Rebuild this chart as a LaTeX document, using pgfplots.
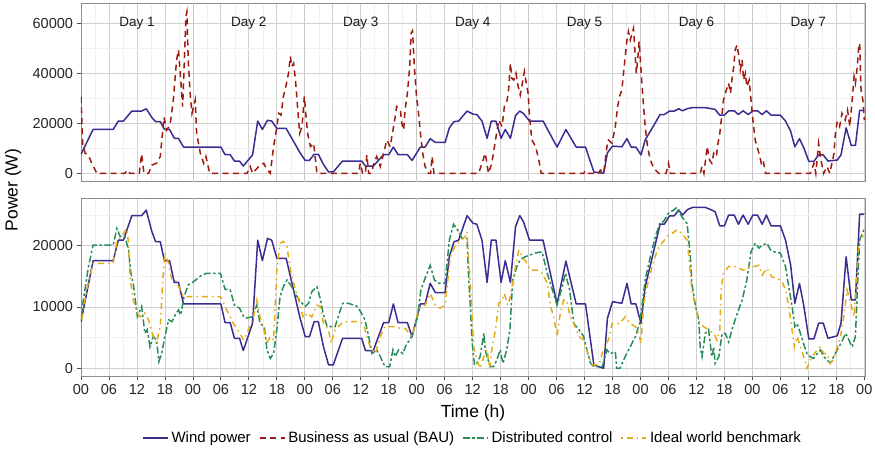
\documentclass[border=0pt]{standalone}
\usepackage{pgfplots}
\pgfplotsset{compat=1.18}
\usepackage{pgfplotstable}
\usepackage{fontspec}
\setmainfont{Liberation Sans}
\definecolor{windc}{RGB}{59,44,145}
\definecolor{bauc}{RGB}{158,26,14}
\definecolor{distc}{RGB}{40,140,90}
\definecolor{idealc}{RGB}{230,170,20}

\pgfplotstableread{
h v
0 7600
2.6 17550
6.9 17550
8 20900
9.1 20900
10.9 24900
13 24900
14 25800
15.2 22300
16 20650
17 20650
17.9 17550
19 17550
20 14000
20.9 14000
22 10500
30 10500
30.9 7450
32 7450
32.9 4900
34 4900
34.8 2900
36.8 7350
37.9 20900
38.9 17550
40 21200
40.9 20900
42 17950
44 17950
47 8150
48.1 5150
49 5150
50 7600
50.9 7600
52 3530
53.1 540
54.1 540
56.1 4900
60.2 4900
61 2900
62.7 2900
64.9 7450
66 7450
67 10500
68 7450
70 7450
71 5150
72.8 10500
73.8 10500
74.9 13850
76 12350
78.1 12350
79 18200
80 20650
81 20900
82.8 24900
84.1 23650
84.9 23500
86 20900
87.1 14000
88 20900
89 20900
90.1 14000
91 17550
92.1 14000
93.2 23100
94.1 24900
94.9 23900
96.2 20900
99.1 20900
102.1 10500
104 17500
106.2 10500
108.2 10500
110 540
112.1 0
112.9 8150
114 10870
116 10600
117.1 13850
118 10500
119 10500
120.1 7350
121 13300
122.8 19000
124.2 23500
125.1 23500
126.2 24850
127.2 24850
128.2 25800
129 25000
130.1 25900
131.2 26250
133.9 26250
135 25900
136 25550
137 23250
138 23250
138.9 25000
140.1 25000
141 23500
142 25000
143.1 23500
144.1 25000
145.1 25000
146.1 23500
147 25000
148 23250
150 23250
151.1 20900
152.2 16850
153.1 10600
154.1 13850
155 10300
156.1 4800
157.2 4800
158.2 7350
159.2 7350
160.2 4900
162.2 5300
163 7350
164.1 18200
165.2 11150
166.1 11150
167 25150
168 25150
}\windtab

\pgfplotstableread{
h v
0 30600
0.35 12000
0.9 8000
1.6 7300
2.3 4000
3.4 0
9.4 0
10 1300
10.5 0
12.5 0
13 7700
13.5 0
14.5 0
15.2 3300
16.2 4000
17 6700
17.8 22400
18.4 17300
19.1 19300
19.8 29300
20.5 45300
20.9 49300
21.4 37300
21.8 26700
22.1 41300
22.5 62700
22.7 64500
23 45300
23.4 32000
23.8 24000
24.5 29300
24.8 16000
25.6 8000
26.3 4000
26.8 6700
27.6 0
35.6 0
36.3 2700
36.8 0
38.1 2700
39.2 4000
39.7 2000
40.6 0
41.3 10700
41.9 17300
42.4 24000
42.9 23300
43.4 30700
44 35300
44.5 40000
44.9 46700
45.2 42700
45.6 44000
46 37300
46.5 25300
46.9 16000
47.4 18700
47.9 30700
48.2 24000
48.6 16000
49.2 10700
49.9 12000
50.6 0
59.5 0
59.9 4000
60.4 0
61 0
61.3 7300
61.7 0
62.3 0
62.7 3300
63.4 6700
64.2 2700
64.9 8000
65.6 13300
66.3 10700
66.8 16000
67.4 22700
67.7 26700
68.5 25300
68.8 20000
69.2 17300
69.5 25300
70 32000
70.5 42700
70.8 56000
71.1 57000
71.5 42700
71.9 32000
72.4 24000
72.8 16000
73.3 8000
73.8 2700
74.5 0
75 0
75.3 6700
75.7 0
85.3 0
86 4000
86.7 8000
87.4 0
88.1 4000
88.9 13300
89.6 21300
90.3 18700
90.8 26700
91.4 29300
91.7 33300
92.1 44000
92.4 38000
92.8 37300
93.3 40000
93.7 35300
94.2 31300
94.6 35300
95.1 40700
95.5 36000
95.9 32000
96.2 22700
96.7 13300
97.5 10700
98.2 5300
98.7 0
107.8 0
108.2 1000
108.6 0
111 0
111.4 1300
112.1 0
112.8 10700
113.1 13300
113.9 12000
114.6 18700
115.1 26700
115.5 30700
116 33300
116.5 42700
117.1 53300
117.4 56700
117.8 53300
118.2 56000
118.5 58000
118.7 52000
119.1 40000
119.4 45300
119.7 52700
120.1 41300
120.5 30700
121 18700
121.5 10700
122.1 5300
122.7 2700
123.2 1300
123.9 0
125.5 0
126 4000
126.4 0
132.8 0
133.2 2700
133.6 0
134.3 10700
134.8 5300
135.3 4000
135.7 8000
136.3 6700
136.5 10700
137 16000
137.5 24000
137.8 29300
138.4 33300
138.9 36000
139.3 32000
139.6 37300
140 42700
140.3 49300
140.7 51300
141.1 46700
141.4 41300
141.8 45300
142.1 37300
142.5 40000
142.8 34700
143.3 37300
143.7 29300
144.1 21300
144.6 13300
145 10700
145.6 6700
145.9 4000
146.3 5300
146.8 0
156.4 0
157.2 4000
157.6 0
158.2 12000
158.7 5300
159.3 0
160 2700
160.6 0
161.5 8000
161.8 16000
162.2 20700
162.7 18700
163.2 24000
163.9 21300
164.4 25300
164.9 18700
165.4 29300
165.8 38700
166.1 36000
166.5 42700
166.8 50700
167 52000
167.3 33300
167.7 29300
168 21300
}\bautab

\pgfplotstableread{
h v
0 7900
0.5 11100
1.6 16600
2.6 20100
6.9 20100
7.7 22800
8.4 21500
9.4 21500
10.2 19300
10.7 15500
11.2 13900
12.1 8400
13 10100
13.7 5700
14.2 6300
14.8 3500
15.5 5200
16.2 4600
16.7 1100
17.3 2400
18 5200
18.8 7900
19.5 7600
20.2 8700
20.9 9500
21.4 8700
22.1 11700
23 13600
24.1 14100
25.9 15200
27 15500
29.9 15500
30.9 12900
32 12800
32.9 10300
34 9800
34.9 8400
35.6 8200
36.7 8400
37.7 10300
38.4 7300
39.3 6800
39.9 3000
40.6 1600
41.3 2400
42 6300
42.7 11700
43.4 13300
44.2 14400
45.2 13300
46.3 11700
47.4 10600
48.1 10100
48.8 10600
49.5 12500
50.6 13300
51.3 11400
52 8700
52.8 6800
54.5 6800
56.1 10600
57.4 10600
59.2 10100
60 9200
60.9 7900
61.7 5200
62.4 2400
63.4 3000
64.2 1900
65.2 270
66.2 270
66.9 3000
67.4 1900
68.1 3000
69 2400
69.9 4100
70.6 4600
71.3 6300
72.2 8400
72.9 12800
73.8 14700
74.9 16800
75.8 14400
76.7 13900
78.1 13900
79 20900
79.9 23500
81 22300
81.7 21200
82.8 21200
83.1 15500
83.5 10100
83.9 4100
84.4 540
84.9 800
85.6 1900
86.4 5700
86.7 3000
87.1 1900
87.8 270
88.5 270
89.2 1400
89.9 3000
90.5 800
91.3 3000
92 6300
92.6 14400
93.5 16600
94.2 17700
95.3 18200
96.4 18500
97.4 18800
98.9 19000
100 15500
101.1 12800
102.1 10300
103.2 13300
103.9 15500
104.8 12800
105.7 7300
106.8 6300
107.8 5200
108.5 3000
109.3 800
110 270
111.8 270
112.8 3000
113.5 2400
114.6 2700
114.9 0
115.6 0
116.7 1900
117.8 3500
118.9 5200
119.8 7300
120.3 10100
121 14400
122.1 18200
123.2 21500
124.2 23800
124.9 23900
126 25300
127.1 25800
127.8 26250
128.9 24700
130 23600
130.7 18200
131 13900
131.8 10100
132.5 7900
132.8 3500
133.2 1900
133.9 5700
134.6 6300
135.3 1900
135.7 3500
136 800
136.8 1900
137.5 5700
138.2 5700
138.9 4300
139.6 6300
140.3 7900
141 9500
141.8 11100
142.8 14400
143.7 19000
144.6 20400
145.4 19600
146.1 20100
147.1 20400
147.9 19300
148.7 19000
150 18800
151.1 16600
151.8 13300
152.5 10100
153.1 6800
153.6 7300
154.3 5700
155.2 3500
155.7 2400
156.4 1900
157.1 1600
157.9 2400
158.6 3000
159.3 1900
160 1400
160.7 800
161.4 1900
162.2 3000
163 4100
164 5700
164.7 4600
165.4 3500
166.1 5200
166.5 12800
167 20900
167.9 22600
}\disttab

\pgfplotstableread{
h v
0 7100
1.2 12800
2.6 17100
6.9 17100
7.7 20700
8.7 21500
9.8 22800
10.2 20400
10.5 14900
11.2 11100
12.1 9000
12.7 8400
13.7 9000
14.5 7900
15.5 5200
16.2 4100
17 6800
17.5 13900
18 18800
18.8 17100
19.5 14400
20.2 14400
21.3 12800
22 11700
29.9 11700
30.6 10600
31.6 9000
32.7 7300
33.8 6000
34.9 4600
35.9 6300
37 8400
37.7 11100
38.4 8400
39.2 6300
39.9 4100
40.6 5200
41.3 4600
42 16000
42.7 20400
43.4 20700
44.2 19800
44.9 16000
45.6 13900
46.7 11100
47.7 8200
48.5 9000
49.5 8400
50.6 10300
51.3 10100
52 7300
53.1 6300
53.6 4000
54.5 6300
56.3 7600
59.9 7600
60.6 7100
62 3500
63.1 2400
64.2 5200
65.2 6800
67.4 6800
68.5 6500
69.5 6500
71 5200
71.7 7300
72.4 9800
73.8 10300
74.9 12200
76 10300
77 9800
78.1 10300
79.2 18200
80.3 20100
81.3 20700
82.4 21500
82.8 22300
83.1 18200
83.5 13900
83.9 8400
84.2 3500
84.9 1400
85.6 0
86.4 1900
87.1 3000
87.6 0
88.1 3000
88.9 6300
89.6 10600
90.3 11100
90.8 12200
91.5 10300
92.1 11700
92.8 14900
93.9 19300
94.6 18200
95.7 17100
96.4 16000
97.8 16000
98.9 15500
100 13900
100.7 10100
101.4 8400
102.1 5200
102.8 9000
103.5 11100
104.2 11100
104.9 8400
105.7 7300
106.8 5200
107.8 4600
108.9 1900
109.6 540
110.7 540
111.2 800
112 3000
113.1 4600
113.9 7300
115.6 7300
116.7 8400
117.8 7300
118.9 6800
119.6 5700
120.1 4100
120.7 10600
121.4 13300
122.5 16600
123.6 19300
124.6 20400
125.7 21500
126.8 22000
127.8 22600
128.9 22000
130 20900
130.5 17100
131 12800
131.8 10100
132.8 7300
133.5 6800
134.6 6300
135.7 5700
136.4 4600
137 6300
137.3 12800
137.8 15500
138.9 16600
140 16700
141.1 16300
142.1 16000
143.2 16600
144.3 16600
145.4 16800
146.1 15200
147.1 16300
148.2 14900
149.3 14700
150.4 14100
151.1 12800
151.8 10100
152.5 6300
153 3500
153.6 5200
154.3 3500
155 1900
155.7 0
156.4 1400
157.1 2200
157.9 3000
158.6 3500
159.3 2400
160 2400
160.7 800
161.4 1400
162.2 3500
162.9 5200
163.6 8400
164.3 12800
164.9 11100
165.8 8400
166.3 13900
166.8 20400
167.5 21500
168 21500
}\idealtab

\pgfplotsset{
  panel/.style={
    scale only axis, width=784pt,
    xmin=0, xmax=168.15,
    axis line style={draw=black!45, line width=0.9pt},
    tick align=outside, tick pos=left,
    major tick length=4.5pt, minor tick length=0pt,
    tick style={black!70, line width=0.8pt},
    grid=both,
    major grid style={color=black!18, line width=0.8pt},
    minor grid style={color=black!6, line width=0.5pt},
    xtick={0,6,...,168},
    minor xtick={3,9,...,165},
    ticklabel style={font=\fontsize{14.5}{16}\selectfont, text=black!85},
    /pgf/number format/assume math mode=true,
    scaled y ticks=false,
    yticklabel style={/pgf/number format/.cd, fixed, 1000 sep={}},
    clip=true,
  },
  windstyle/.style={color=windc, line width=1.5pt, line join=round},
  baustyle/.style={color=bauc, line width=1.5pt, dash pattern=on 6pt off 4.5pt},
  diststyle/.style={color=distc, line width=1.5pt, dash pattern=on 7pt off 2.5pt on 2.5pt off 2.5pt},
  idealstyle/.style={color=idealc, line width=1.5pt, dash pattern=on 1.5pt off 4pt on 6pt off 4pt},
}

\begin{document}
\begin{tikzpicture}[x=1pt,y=1pt]
\path[use as bounding box] (0,0) rectangle (875,454);

\begin{axis}[panel, at={(81pt,272.3pt)}, anchor=south west, height=178.4pt,
  ymin=-3360, ymax=68000,
  ytick={0,20000,40000,60000}, minor ytick={10000,30000,50000},
  xticklabels={}, x tick style={draw=none}]
\pgfplotsinvokeforeach{24,48,72,96,120,144}{\draw[black!22, line width=0.8pt] (axis cs:#1,-3360) -- (axis cs:#1,68000);}
\addplot[windstyle] table[x=h,y=v] {\windtab};
\addplot[baustyle] table[x=h,y=v] {\bautab};
\pgfplotsinvokeforeach{1,...,7}{\node[font=\fontsize{13.5}{15}\selectfont, text=black!90] at (axis cs:{24*#1-12},60000) {Day #1};}
\end{axis}

\begin{axis}[panel, at={(81pt,78pt)}, anchor=south west, height=177.7pt,
  ymin=-1256, ymax=27730,
  ytick={0,10000,20000}, minor ytick={5000,15000,25000},
  xticklabels={00,06,12,18,00,06,12,18,00,06,12,18,00,06,12,18,00,06,12,18,00,06,12,18,00,06,12,18,00},
  legend style={at={(0.5,-0.349)}, anchor=center, draw=none, fill=none,
    legend columns=4, font=\fontsize{15}{17}\selectfont,
    /tikz/every even column/.append style={column sep=5pt},
    nodes={inner xsep=3pt}},
  legend image code/.code={\draw[#1] (0pt,0pt) -- (25pt,0pt);}]
\pgfplotsinvokeforeach{24,48,72,96,120,144}{\draw[black!22, line width=0.8pt] (axis cs:#1,-1256) -- (axis cs:#1,27730);}
\addplot[windstyle] table[x=h,y=v] {\windtab};
\addlegendentry{Wind power}
\addlegendimage{baustyle}
\addlegendentry{Business as usual (BAU)}
\addplot[diststyle] table[x=h,y=v] {\disttab};
\addlegendentry{Distributed control}
\addplot[idealstyle] table[x=h,y=v] {\idealtab};
\addlegendentry{Ideal world benchmark}
\end{axis}

\node[rotate=90, font=\fontsize{17.5}{20}\selectfont] at (13,264) {Power (W)};
\node[font=\fontsize{17.5}{20}\selectfont] at (473,41) {Time (h)};
\end{tikzpicture}
\end{document}
